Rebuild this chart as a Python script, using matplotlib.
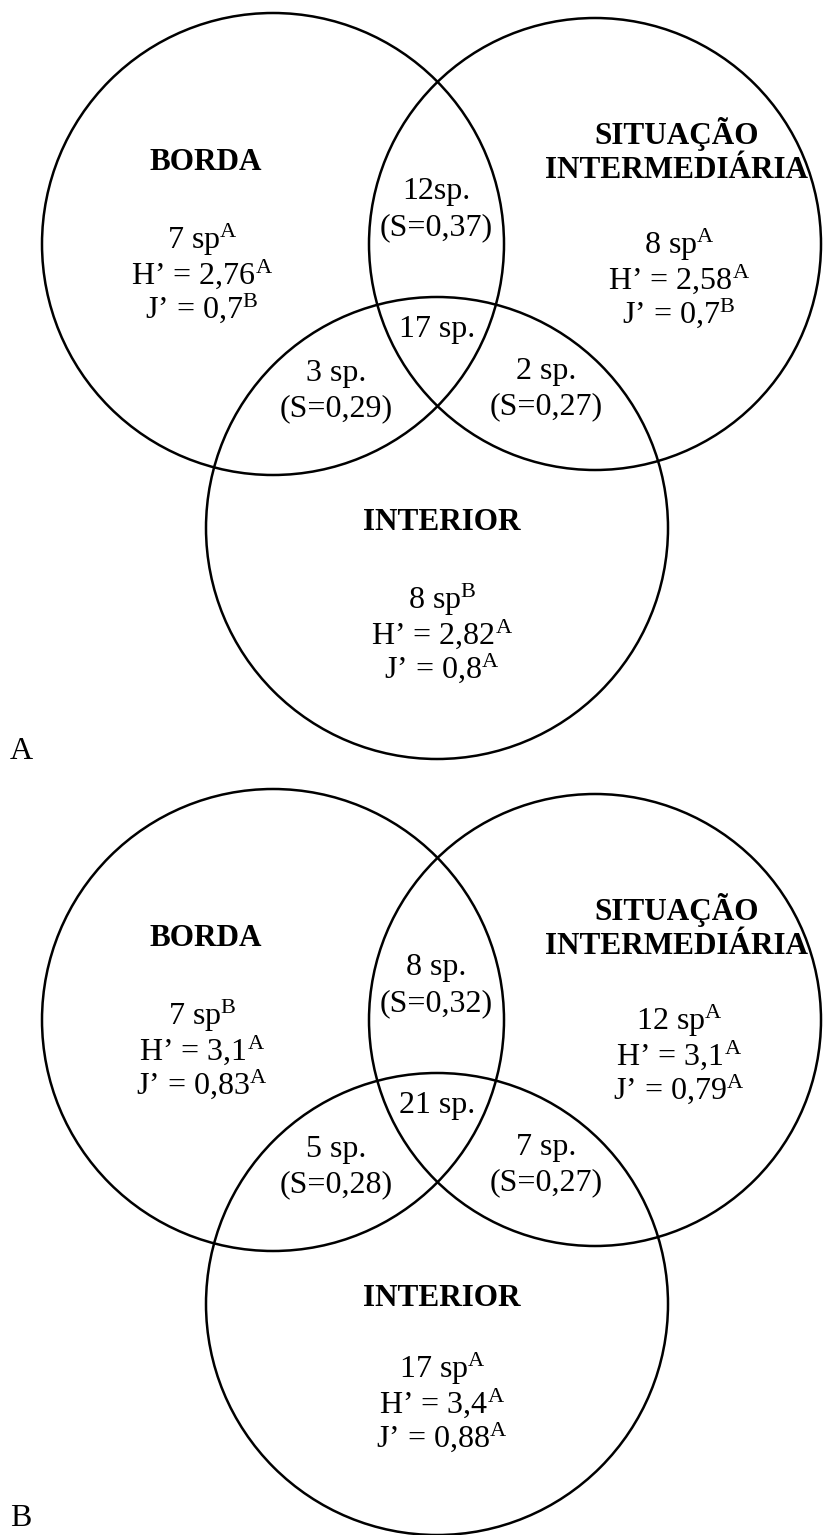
import matplotlib
matplotlib.use("Agg")
import matplotlib.pyplot as plt
from matplotlib.patches import Circle

plt.rcParams['font.family'] = ['Liberation Serif', 'DejaVu Serif']
plt.rcParams['mathtext.fontset'] = 'custom'
plt.rcParams['mathtext.rm'] = 'Liberation Serif'
plt.rcParams['mathtext.it'] = 'Liberation Serif:italic'
plt.rcParams['mathtext.bf'] = 'Liberation Serif:bold'

# data
panel_labels = ["A", "B"]
groups = ["BORDA", "SITUAÇÃO\nINTERMEDIÁRIA", "INTERIOR"]

richness_a = ["7 sp", "8 sp", "8 sp"]
richness_a_sig = ["A", "A", "B"]
shannon_a = ["2,76", "2,58", "2,82"]
shannon_a_sig = ["A", "A", "A"]
pielou_a = ["0,7", "0,7", "0,8"]
pielou_a_sig = ["B", "B", "A"]
# shared: borda+sit, all, borda+int, sit+int
shared_a = ["12sp.", "17 sp.", "3 sp.", "2 sp."]
sorensen_a = ["0,37", None, "0,29", "0,27"]

richness_b = ["7 sp", "12 sp", "17 sp"]
richness_b_sig = ["B", "A", "A"]
shannon_b = ["3,1", "3,1", "3,4"]
shannon_b_sig = ["A", "A", "A"]
pielou_b = ["0,83", "0,79", "0,88"]
pielou_b_sig = ["A", "A", "A"]
shared_b = ["8 sp.", "21 sp.", "5 sp.", "7 sp."]
sorensen_b = ["0,32", None, "0,28", "0,27"]

W, H = 823, 1535
fig = plt.figure(figsize=(W / 100, H / 100), dpi=100)
ax = fig.add_axes([0, 0, 1, 1])
ax.set_xlim(0, W)
ax.set_ylim(H, 0)
ax.axis("off")

FS = 23
FS_BOLD = 22.5


def sup(txt, s):
    return txt + r"$^{\mathrm{" + s + "}}$"


def draw_panel(y0, label, rich, rich_s, sh, sh_s, pi, pi_s, shared, sor, stats_low):
    circles = [((273, y0 + 244), 231), ((595, y0 + 244), 226), ((437, y0 + 528), 231)]
    for (cx, cy), r in circles:
        ax.add_patch(Circle((cx, cy), r, fill=False, ec="black", lw=1.8))

    # group names
    name_pos = [(206, y0 + 163), (677, y0 + 151), (442, y0 + 522)]
    for (x, y), name in zip(name_pos, groups):
        ax.text(x, y, name, ha="center", va="center", fontsize=FS_BOLD,
                fontweight="bold", linespacing=1.2)

    # stats blocks
    stat_pos = [(202, y0 + 240), (679, y0 + 245), (442, y0 + stats_low)]
    for i, (x, y) in enumerate(stat_pos):
        ax.text(x, y, sup(rich[i], rich_s[i]), ha="center", va="center", fontsize=FS)
        ax.text(x, y + 34, sup("H’ = " + sh[i], sh_s[i]), ha="center", va="center", fontsize=FS)
        ax.text(x, y + 68, sup("J’ = " + pi[i], pi_s[i]), ha="center", va="center", fontsize=FS)

    # shared species
    shared_pos = [(436, y0 + 192), (437, y0 + 329), (336, y0 + 373), (546, y0 + 371)]
    for (x, y), n, s in zip(shared_pos, shared, sor):
        ax.text(x, y, n, ha="center", va="center", fontsize=FS)
        if s is not None:
            ax.text(x, y + 36, "(S=" + s + ")", ha="center", va="center", fontsize=FS)

    ax.text(10, min(y0 + 766, H - 2), label, ha="left", va="bottom", fontsize=FS)


draw_panel(0, panel_labels[0], richness_a, richness_a_sig, shannon_a, shannon_a_sig,
           pielou_a, pielou_a_sig, shared_a, sorensen_a, 600)
draw_panel(776, panel_labels[1], richness_b, richness_b_sig, shannon_b, shannon_b_sig,
           pielou_b, pielou_b_sig, shared_b, sorensen_b, 593)

fig.savefig("out.png", dpi=100, facecolor="white")
